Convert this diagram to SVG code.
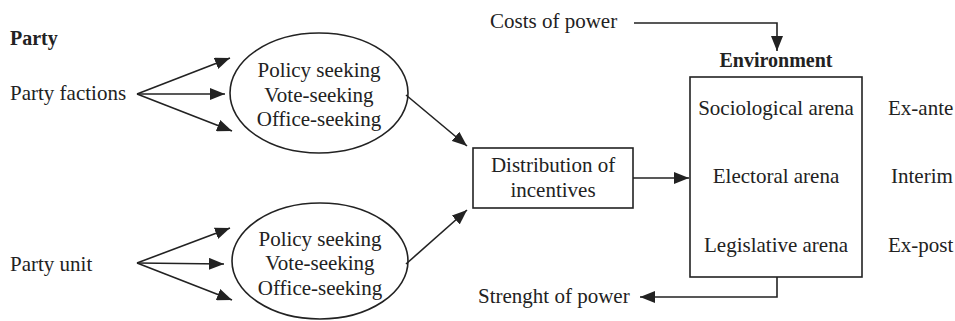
<svg xmlns="http://www.w3.org/2000/svg" width="955" height="321" viewBox="0 0 955 321">
<style>
text{font-family:"Liberation Serif","Times New Roman",serif;font-size:21px;fill:#222}
.b{font-weight:bold;font-size:20px}
.m{text-anchor:middle}
.ln{fill:none;stroke:#222;stroke-width:1.6}
.sh{fill:#fff;stroke:#222;stroke-width:1.6}
</style>
<defs>
<marker id="ah" markerUnits="userSpaceOnUse" markerWidth="16" markerHeight="12" refX="15" refY="6" orient="auto">
<path d="M0,0 L15,6 L0,12 Z" fill="#222"/>
</marker>
</defs>
<rect width="955" height="321" fill="#fff"/>
<g id="party-title"><text class="b" x="10" y="45">Party</text></g>
<g id="party-factions"><text x="10" y="100">Party factions</text></g>
<g id="party-unit"><text x="10" y="271">Party unit</text></g>
<g id="goals-1">
<ellipse class="sh" cx="319" cy="93" rx="89" ry="60"/>
<text class="m" x="319" y="77">Policy seeking</text>
<text class="m" x="319" y="102">Vote-seeking</text>
<text class="m" x="319" y="126">Office-seeking</text>
</g>
<g id="goals-2">
<ellipse class="sh" cx="320" cy="261" rx="88" ry="58"/>
<text class="m" x="320" y="246">Policy seeking</text>
<text class="m" x="320" y="270">Vote-seeking</text>
<text class="m" x="320" y="295">Office-seeking</text>
</g>
<g id="distribution">
<rect class="sh" x="473" y="148" width="160" height="60"/>
<text class="m" x="553" y="172">Distribution of</text>
<text class="m" x="553" y="197">incentives</text>
</g>
<g id="environment">
<text class="b m" x="776" y="67">Environment</text>
<rect class="sh" x="690" y="77" width="172" height="200"/>
<text class="m" x="776" y="115">Sociological arena</text>
<text class="m" x="776" y="183">Electoral arena</text>
<text class="m" x="776" y="252">Legislative arena</text>
</g>
<g id="phases">
<text x="888" y="115">Ex-ante</text>
<text x="891" y="183">Interim</text>
<text x="888" y="252">Ex-post</text>
</g>
<g id="costs"><text x="490" y="28">Costs of power</text></g>
<g id="strength"><text x="478" y="303">Strenght of power</text></g>
<g id="connectors">
<line class="ln" x1="137" y1="94" x2="230" y2="58" marker-end="url(#ah)"/>
<line class="ln" x1="137" y1="94" x2="225" y2="94" marker-end="url(#ah)"/>
<line class="ln" x1="137" y1="94" x2="232" y2="131" marker-end="url(#ah)"/>
<line class="ln" x1="137" y1="263" x2="230" y2="228" marker-end="url(#ah)"/>
<line class="ln" x1="137" y1="263" x2="224" y2="264" marker-end="url(#ah)"/>
<line class="ln" x1="137" y1="263" x2="232" y2="300" marker-end="url(#ah)"/>
<line class="ln" x1="406" y1="95" x2="467" y2="146" marker-end="url(#ah)"/>
<line class="ln" x1="406" y1="264" x2="467" y2="210" marker-end="url(#ah)"/>
<line class="ln" x1="633" y1="178" x2="689" y2="178" marker-end="url(#ah)"/>
<path class="ln" d="M634,23 H777 V51" marker-end="url(#ah)"/>
<path class="ln" d="M777,277 V297 H640" marker-end="url(#ah)"/>
</g>
</svg>
